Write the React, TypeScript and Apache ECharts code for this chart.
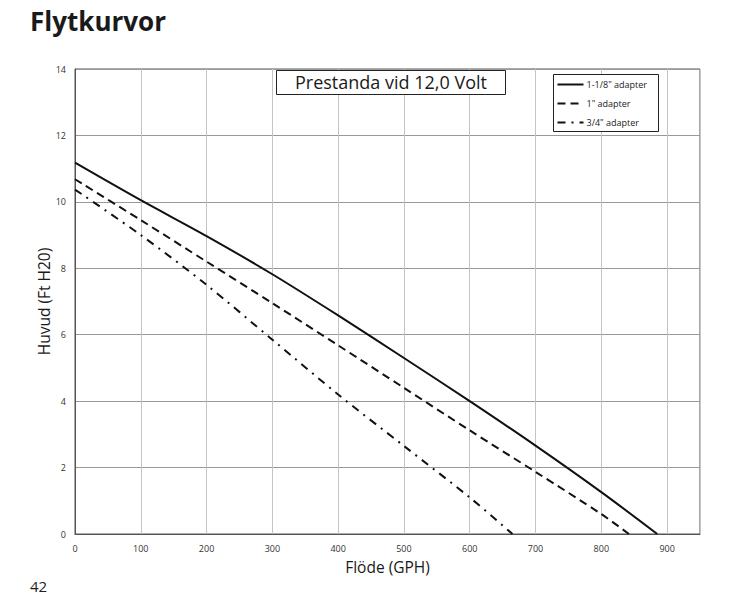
import React, { useEffect, useRef } from "react";
import * as echarts from "echarts";

const seriesNames = ['1-1/8" adapter', '1" adapter', '3/4" adapter'];
const flow118 = [0, 100, 200, 300, 400, 500, 600, 700, 800, 885];
const head118 = [11.18, 10.05, 8.97, 7.82, 6.58, 5.3, 4.0, 2.66, 1.26, 0];
const flow1 = [0, 100, 200, 300, 400, 500, 600, 700, 800, 842];
const head1 = [10.68, 9.45, 8.2, 6.95, 5.68, 4.4, 3.12, 1.87, 0.6, 0];
const flow34 = [0, 100, 200, 300, 400, 500, 600, 665];
const head34 = [10.37, 9.0, 7.5, 5.85, 4.2, 2.65, 1.1, 0];

const FONT = "'Open Sans', 'Noto Sans', sans-serif";
const dashes: (number[] | null)[] = [null, [8, 5], [8, 6, 2, 6]];

export default function App() {
  const ref = useRef<HTMLDivElement>(null);
  useEffect(() => {
    if (!ref.current) return;
    const chart = echarts.init(ref.current, undefined, { renderer: "svg" });
    const pair = (xs: number[], ys: number[]) => xs.map((x, i) => [x, ys[i]]);

    const legendChildren: any[] = [
      {
        type: "rect",
        z: 100,
        shape: { x: 0, y: 0, width: 105, height: 57 },
        style: { fill: "#ffffff", stroke: "#222", lineWidth: 1 },
      },
    ];
    seriesNames.forEach((name, i) => {
      const y = 10 + i * 19;
      legendChildren.push({
        type: "line",
        z: 101,
        shape: { x1: 4, y1: y, x2: 30, y2: y },
        style: {
          stroke: "#111",
          lineWidth: 2,
          lineDash: dashes[i] || undefined,
        },
      });
      legendChildren.push({
        type: "text",
        z: 101,
        x: 33,
        y: y,
        style: {
          text: name,
          fontFamily: FONT,
          fontSize: 9,
          fill: "#222",
          verticalAlign: "middle",
        },
      });
    });

    chart.setOption({
      animation: false,
      backgroundColor: "#ffffff",
      textStyle: { fontFamily: FONT },
      title: [
        {
          text: "Flytkurvor",
          left: 30,
          top: 8,
          padding: 0,
          textStyle: { fontFamily: FONT, fontSize: 26, fontWeight: 700, color: "#1a1a1a" },
        },
        {
          text: "Prestanda vid 12,0 Volt",
          left: 276,
          top: 70,
          padding: [3, 19, 4, 19],
          backgroundColor: "#ffffff",
          borderColor: "#222",
          borderWidth: 1,
          textStyle: { fontFamily: FONT, fontSize: 18, fontWeight: 400, color: "#1a1a1a" },
        },
        {
          text: "42",
          left: 30,
          top: 578,
          padding: 0,
          textStyle: { fontFamily: FONT, fontSize: 15, fontWeight: 400, color: "#222" },
        },
      ],
      graphic: [
        {
          type: "group",
          left: 553,
          top: 74,
          z: 100,
          children: legendChildren,
        },
      ],
      grid: {
        left: 75,
        top: 69,
        right: 35,
        bottom: 81,
        show: true,
        borderColor: "#555",
        borderWidth: 1,
        backgroundColor: "transparent",
      },
      xAxis: {
        type: "value",
        min: 0,
        max: 950,
        interval: 100,
        name: "Flöde (GPH)",
        nameLocation: "middle",
        nameGap: 25,
        nameMoveOverlap: false,
        nameTextStyle: { fontFamily: FONT, fontSize: 15.5, color: "#1a1a1a" },
        axisLine: { show: true, lineStyle: { color: "#555" } },
        axisTick: { show: false },
        axisLabel: {
          fontFamily: FONT,
          fontSize: 9,
          color: "#333",
          margin: 10,
          showMaxLabel: false,
          formatter: (v: number) => (v % 100 === 0 ? String(v) : ""),
        },
        splitLine: { show: true, lineStyle: { color: "#c4c4c4", width: 1 } },
      },
      yAxis: {
        type: "value",
        min: 0,
        max: 14,
        interval: 2,
        name: "Huvud (Ft H20)",
        nameLocation: "middle",
        nameGap: 23,
        nameMoveOverlap: false,
        nameTextStyle: { fontFamily: FONT, fontSize: 15.5, color: "#1a1a1a" },
        axisLine: { show: true, lineStyle: { color: "#555" } },
        axisTick: { show: false },
        axisLabel: { fontFamily: FONT, fontSize: 9, color: "#333", margin: 9 },
        splitLine: { show: true, lineStyle: { color: "#999", width: 1 } },
      },
      series: [
        {
          name: seriesNames[0],
          type: "line",
          symbol: "none",
          smooth: 0.3,
          data: pair(flow118, head118),
          lineStyle: { color: "#111", width: 2, type: "solid" },
          itemStyle: { color: "#111" },
        },
        {
          name: seriesNames[1],
          type: "line",
          symbol: "none",
          smooth: 0.3,
          data: pair(flow1, head1),
          lineStyle: { color: "#111", width: 2, type: dashes[1] },
          itemStyle: { color: "#111" },
        },
        {
          name: seriesNames[2],
          type: "line",
          symbol: "none",
          smooth: 0.3,
          data: pair(flow34, head34),
          lineStyle: { color: "#111", width: 2, type: dashes[2] },
          itemStyle: { color: "#111" },
        },
      ],
    });
    return () => chart.dispose();
  }, []);
  return (
    <div
      ref={ref}
      style={{ position: "absolute", left: 0, top: 0, width: 735, height: 615 }}
    />
  );
}
